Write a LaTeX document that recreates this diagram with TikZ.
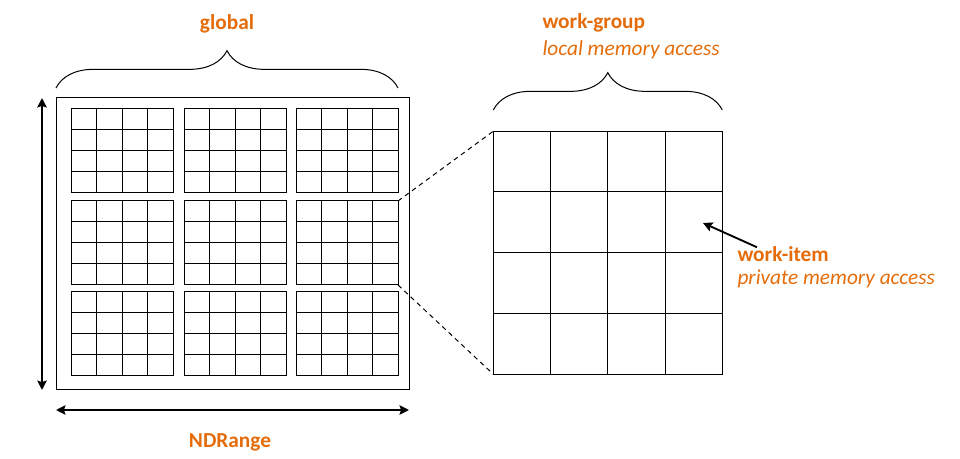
\documentclass[tikz,border=0pt]{standalone}
\usepackage{fontspec}
\setmainfont{Carlito}
\usetikzlibrary{arrows.meta,decorations.pathreplacing}
\definecolor{labelorange}{RGB}{228,108,10}
\tikzset{
  lbl/.style={text=labelorange,inner sep=0pt,font=\fontsize{16}{19}\selectfont\bfseries},
  sublbl/.style={text=labelorange,inner sep=0pt,font=\fontsize{16}{19}\selectfont\itshape},
  grp/.style={draw,inner sep=0pt,outer sep=0pt,minimum width=76.5pt,minimum height=63pt},
  brc/.style={decorate,decoration={brace,amplitude=28pt}},
  dimarr/.style={line width=1.5pt,{Stealth[length=7pt,width=7pt,inset=1pt]}-{Stealth[length=7pt,width=7pt,inset=1pt]}},
  arr/.style={line width=1.4pt,-{Stealth[length=7pt,width=7pt,inset=1pt]}}
}
\begin{document}
\begin{tikzpicture}[x=0.75pt,y=-0.75pt,line width=0.75pt]
\useasboundingbox (0,0) rectangle (960,459);
% NDRange with its 3x3 work-groups
\node[draw,inner sep=0pt,outer sep=0pt,minimum width=264.75pt,minimum height=219pt] (frame) at (232.5,244) {};
\foreach \r/\y in {1/109,2/201,3/292}
  \foreach \c/\x in {1/71,2/184,3/296}{
    \node[grp] (g\r\c) at (\x+51,\y+42) {};
    \foreach \k in {1,2,3}{
      \draw (\x+25.5*\k,\y) -- (\x+25.5*\k,\y+84);
      \draw (\x,\y+21*\k) -- (\x+102,\y+21*\k);
    }
  }
\draw[dimarr] ([xshift=-10.5pt]frame.north west) -- ([xshift=-10.5pt]frame.south west);
\draw[dimarr] ([yshift=-15pt]frame.south west) -- ([yshift=-15pt]frame.south east);
\node[lbl] (ndr) at (230,442) {NDRange};
\draw[brc] (56,88) -- (398,88);
\node[lbl] (glb) at (227,24) {global};
% one work-group, zoomed
\node[draw,inner sep=0pt,outer sep=0pt,minimum width=171.75pt,minimum height=182.25pt] (wg) at (607.8,252.7) {};
\foreach \k in {1,2,3}{
  \draw (493.3+57.25*\k,131) -- (493.3+57.25*\k,374.3);
  \draw (493.3,131+60.8*\k) -- (722.3,131+60.8*\k);
}
\draw[dashed,dash pattern=on 3.5pt off 3pt] (g23.north east) -- (wg.north west);
\draw[dashed,dash pattern=on 3.5pt off 3pt] (g23.south east) -- (wg.south west);
\draw[brc] (493.3,110) -- (722.3,110);
\node[lbl,anchor=west] (wglbl) at (542,23) {work-group};
\node[sublbl,anchor=west] (wgsub) at (542,50) {local memory access};
% work-item
\node[lbl,anchor=west] (wilbl) at (737,254) {work-item};
\node[sublbl,anchor=west] (wisub) at (737,279) {private memory access};
\coordinate (witip) at (703,223);
\draw[arr] ([xshift=15pt,yshift=-1pt]wilbl.north west) -- (witip);
\end{tikzpicture}
\end{document}
